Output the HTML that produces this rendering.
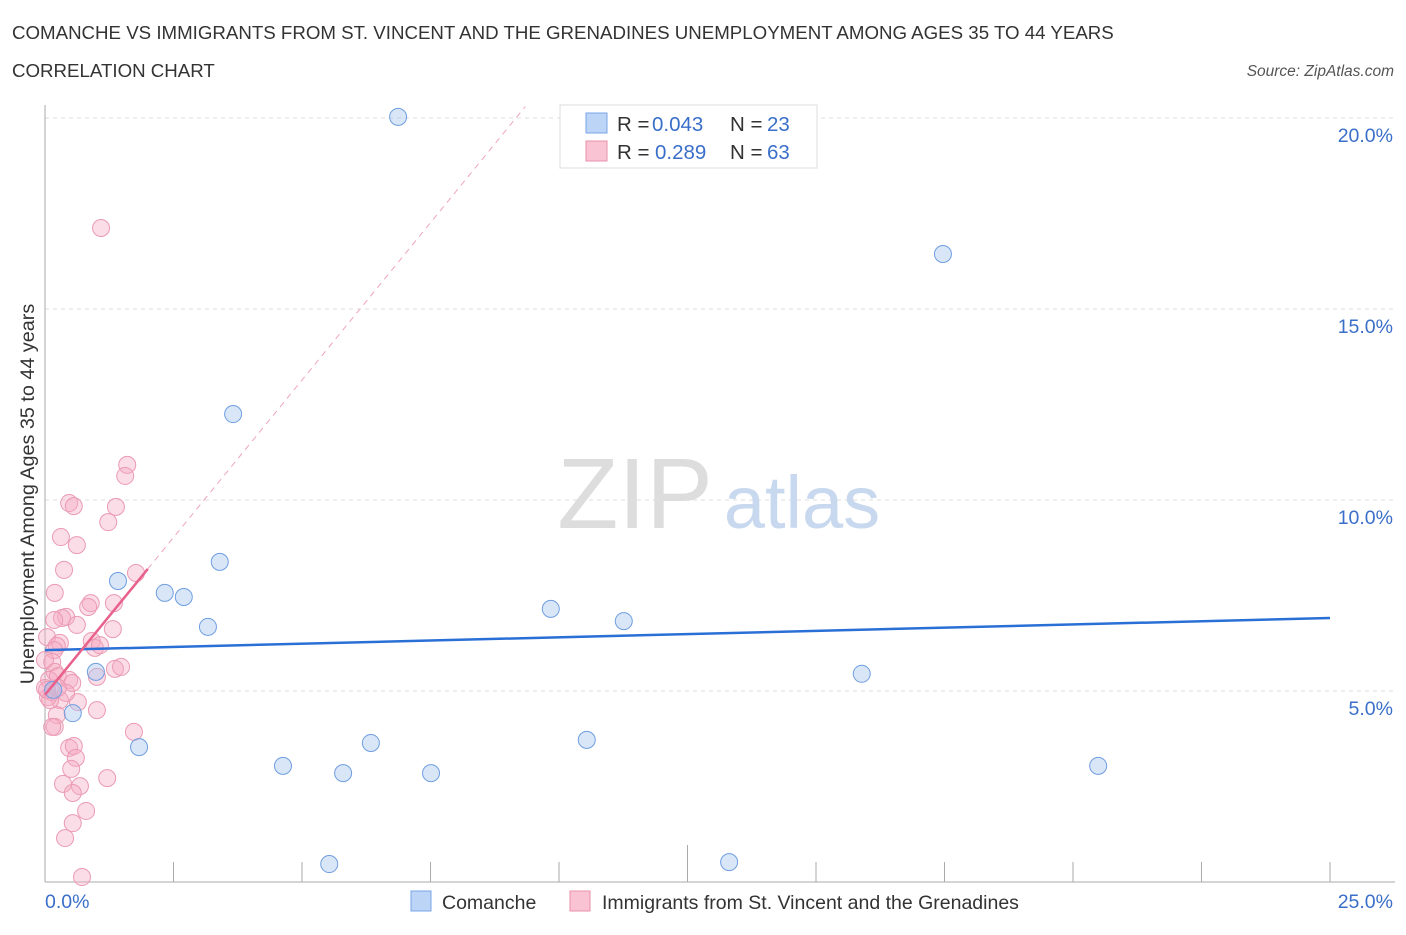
<!DOCTYPE html>
<html><head><meta charset="utf-8">
<style>
body{margin:0;background:#fff;font-family:"Liberation Sans",sans-serif;}
svg text{font-family:"Liberation Sans",sans-serif;}
</style></head>
<body>
<svg id="chart" width="1406" height="930">
<text x="12" y="39" font-size="18.7" fill="#333">COMANCHE VS IMMIGRANTS FROM ST. VINCENT AND THE GRENADINES UNEMPLOYMENT AMONG AGES 35 TO 44 YEARS</text>
<text x="12" y="77" font-size="18.7" fill="#333">CORRELATION CHART</text>
<text x="1394" y="76" font-size="15.5" fill="#555" font-style="italic" text-anchor="end">Source: ZipAtlas.com</text>
<g id="grid"></g>
<text x="635" y="528" font-size="100" fill="#ddd" font-family="Liberation Serif" text-anchor="middle">ZIP</text>
<text x="802" y="528" font-size="74" fill="#c8d8ee" text-anchor="middle">atlas</text>
<g id="pts"></g>
<g id="lines"></g>
<text transform="translate(34,494) rotate(-90)" font-size="19.8" fill="#333" text-anchor="middle">Unemployment Among Ages 35 to 44 years</text>
<text x="45" y="908" font-size="19.5" fill="#3a6fc9">0.0%</text>
<text x="1393" y="908" font-size="19.5" fill="#3a6fc9" text-anchor="end">25.0%</text>
<g>
<rect x="560" y="105" width="257" height="63" fill="#fff" stroke="#ddd"/>
<rect x="586" y="113" width="21" height="20" fill="#bcd4f6" stroke="#7aa5e6"/>
<rect x="586" y="141" width="21" height="20" fill="#f9c3d3" stroke="#eb90ac"/>
<text x="617" y="131" font-size="20.5" fill="#333">R = <tspan x="652" fill="#3a6fc9">0.043</tspan><tspan x="730">N = </tspan><tspan x="767" fill="#3a6fc9">23</tspan></text>
<text x="617" y="159" font-size="20.5" fill="#333">R = <tspan x="655" fill="#3a6fc9">0.289</tspan><tspan x="730">N = </tspan><tspan x="767" fill="#3a6fc9">63</tspan></text>
</g>
<g>
<rect x="411" y="891" width="20" height="20" fill="#bcd4f6" stroke="#7aa5e6"/>
<text x="442" y="909" font-size="19.5" fill="#333">Comanche</text>
<rect x="570" y="891" width="20" height="20" fill="#f9c3d3" stroke="#eb90ac"/>
<text x="602" y="909" font-size="19.5" fill="#333">Immigrants from St. Vincent and the Grenadines</text>
</g>
</svg>
<script>
const yTicks=[5,10,15,20];
const yTickLabels=["5.0%","10.0%","15.0%","20.0%"];
const xTicks=[0,2.5,5,7.5,10,12.5,15,17.5,20,22.5,25];
const comancheX=[6.87,17.47,3.66,3.40,1.42,2.33,2.70,3.17,9.84,11.26,15.89,0.99,0.54,1.83,6.34,10.54,4.63,5.80,7.51,20.49,5.53,13.31,0.16];
const comancheY=[20.03,16.44,12.25,8.38,7.88,7.57,7.46,6.68,7.15,6.83,5.45,5.50,4.42,3.53,3.64,3.72,3.04,2.85,2.85,3.04,0.47,0.52,5.03];
const immX=[1.09,1.60,1.56,0.47,0.56,1.38,1.23,0.31,0.62,0.37,1.77,0.19,0.89,0.84,1.34,0.41,0.33,0.62,1.32,0.91,0.97,0.04,0.29,0.23,0.18,0.14,0.19,0.08,0.25,0.47,0.53,1.36,1.48,1.01,0.14,0.29,0.64,0.23,1.01,0.19,0.14,1.73,0.47,0.56,0.60,0.51,1.21,0.35,0.68,0.54,0.80,0.54,0.39,0.72,0.06,0.00,0.41,0.00,0.10,0.25,1.07,0.18,0.04];
const immY=[17.12,10.92,10.63,9.92,9.84,9.82,9.42,9.03,8.82,8.17,8.09,7.57,7.30,7.20,7.30,6.94,6.91,6.73,6.62,6.31,6.13,6.41,6.26,6.18,6.07,5.76,5.50,5.29,5.39,5.29,5.21,5.58,5.63,5.37,4.97,4.76,4.71,4.37,4.50,4.06,4.06,3.93,3.51,3.56,3.25,2.96,2.72,2.57,2.51,2.33,1.86,1.54,1.15,0.13,4.84,5.08,4.95,5.81,4.76,5.08,6.20,6.86,5.03];
const comancheFit=[6.07,0.0336];
const immFit=[4.90,1.648];
const NS="http://www.w3.org/2000/svg";
const X=v=>45+v/25*1285, Y=v=>882-v*38.2;
function mk(tag,attrs,parent){const e=document.createElementNS(NS,tag);for(const k in attrs)e.setAttribute(k,attrs[k]);parent.appendChild(e);return e;}
const grid=document.getElementById('grid');
yTicks.forEach((t,i)=>{
  const l=mk('line',{x1:45,x2:1395,y1:Y(t),y2:Y(t),stroke:'#ddd','stroke-dasharray':'4,4'},grid);
  
  
  const tx=mk('text',{x:1393,y:Y(t)+24,'font-size':19.5,fill:'#3a6fc9','text-anchor':'end'},grid);
  tx.textContent=yTickLabels[i];
  
  
});
const ax=mk('line',{x1:45,x2:45,y1:105,y2:882,stroke:'#aaa'},grid);


const bx=mk('line',{x1:45,x2:1395,y1:882,y2:882,stroke:'#aaa'},grid);


xTicks.forEach((t,i)=>{
  const l=mk('line',{x1:X(t),x2:X(t),y1:i==5?845:862,y2:882,stroke:'#aaa'},grid);
  
  
});
const pts=document.getElementById('pts');
immX.forEach((x,i)=>{
  const c=mk('circle',{cx:X(x),cy:Y(immY[i]),r:8.5,fill:'rgba(246,170,195,0.4)',stroke:'#eb9ab3','stroke-width':1},pts);
  
  
});
comancheX.forEach((x,i)=>{
  const c=mk('circle',{cx:X(x),cy:Y(comancheY[i]),r:8.5,fill:'rgba(170,200,240,0.45)',stroke:'#6f9ee0','stroke-width':1},pts);
  
  
});
const lines=document.getElementById('lines');
const bl=mk('line',{x1:X(0),y1:Y(comancheFit[0]),x2:X(25),y2:Y(comancheFit[0]+25*comancheFit[1]),stroke:'#2a6fd6','stroke-width':2.5},lines);


const xe=(20.3-immFit[0])/immFit[1];
const pd=mk('line',{x1:X(2),y1:Y(immFit[0]+2*immFit[1]),x2:X(xe),y2:Y(20.3),stroke:'#f0a5bd','stroke-width':1,'stroke-dasharray':'6,5'},lines);


const pl=mk('line',{x1:X(0),y1:Y(immFit[0]),x2:X(2),y2:Y(immFit[0]+2*immFit[1]),stroke:'#e8608c','stroke-width':2.5},lines);


</script>
</body></html>
